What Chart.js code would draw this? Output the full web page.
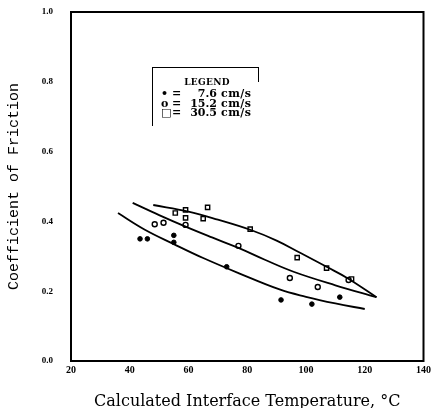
<!DOCTYPE html>
<html>
<head>
<meta charset="utf-8">
<script src="https://cdn.jsdelivr.net/npm/chart.js@4"></script>
<style>
  html, body { margin: 0; padding: 0; background: #fff; }
  #wrap { position: relative; width: 434px; height: 408px; }
  #legendBox {
    position: absolute; left: 152px; top: 67px; width: 106px; height: 58px;
    border-left: 1.5px solid #000; border-top: 1.5px solid #000; background: #fff;
    font-family: "DejaVu Serif", serif; font-weight: bold; font-size: 11px; color: #000;
  }
  #legendBox::after {
    content: ""; position: absolute; right: 0; top: 0; width: 1.5px; height: 14px; background: #000;
  }
  #legendBox span { position: absolute; white-space: nowrap; line-height: 10px; }
  #legendBox .head { left: 0; width: 108px; text-align: center; top: 9px; font-size: 9px; letter-spacing: 0.3px; }
  #legendBox .sym { left: 8px; }
  #legendBox .eq { left: 19px; }
  #legendBox .val { left: 24px; width: 40px; text-align: right; }
  #legendBox .unit { left: 68px; letter-spacing: 0.5px; }
</style>
</head>
<body>
<div id="wrap">
  <canvas id="chart" width="434" height="408"></canvas>
  <div id="legendBox">
    <span class="head">LEGEND</span>
    <span class="sym" style="top:21px">&#8226;</span><span class="eq" style="top:21px">=</span>
    <span class="val" style="top:21px">7.6</span><span class="unit" style="top:21px">cm/s</span>
    <span class="sym" style="top:31px">o</span><span class="eq" style="top:31px">=</span>
    <span class="val" style="top:31px">15.2</span><span class="unit" style="top:31px">cm/s</span>
    <span class="sym" style="top:40px">&#9633;</span><span class="eq" style="top:40px">=</span>
    <span class="val" style="top:40px">30.5</span><span class="unit" style="top:40px">cm/s</span>
  </div>
</div>
<script>
// measured points: [temperature °C, coefficient of friction]
const speed76 = [[43.5, 0.35], [46, 0.35], [55, 0.36], [55, 0.34], [73, 0.27], [91.5, 0.175], [102, 0.163], [111.5, 0.183]];
const speed152 = [[48.5, 0.392], [51.5, 0.396], [59, 0.39], [77, 0.33], [94.5, 0.238], [104, 0.212], [114.5, 0.232]];
const speed305 = [[55.5, 0.424], [59, 0.433], [59, 0.41], [65, 0.408], [66.5, 0.44], [81, 0.378], [97, 0.296], [107, 0.266], [115.5, 0.235]];

// hand-drawn fit curves
const fit76 = [[36, 0.424], [45, 0.377], [55, 0.335], [65, 0.295], [77, 0.252], [91, 0.205], [100, 0.184], [110, 0.165], [120, 0.149]];
const fit152 = [[41, 0.453], [50, 0.418], [59, 0.385], [68, 0.354], [77, 0.324], [86, 0.29], [96, 0.255], [110, 0.217], [124, 0.183]];
const fit305 = [[48, 0.447], [60, 0.428], [70, 0.405], [81, 0.376], [90, 0.345], [98, 0.31], [107, 0.27], [114, 0.238], [124, 0.183]];

const xTicks = [20, 40, 60, 80, 100, 120, 140];
const yTicks = [0, 0.2, 0.4, 0.6, 0.8, 1.0];

const toXY = arr => arr.map(p => ({ x: p[0], y: p[1] }));

const frame = {
    id: 'frame',
    afterDraw(chart) {
        const { ctx, chartArea: a } = chart;
        ctx.save();
        ctx.strokeStyle = '#000';
        ctx.lineWidth = 2;
        ctx.strokeRect(a.left, a.top, a.right - a.left, a.bottom - a.top);
        ctx.restore();
    },
};

const fitLine = data => ({
    type: 'line',
    data: toXY(data),
    borderColor: '#000',
    borderWidth: 1.8,
    pointRadius: 0,
    tension: 0.4,
    fill: false,
});

new Chart(document.getElementById('chart'), {
    type: 'scatter',
    data: {
        datasets: [
            fitLine(fit76),
            fitLine(fit152),
            fitLine(fit305),
            {
                label: '7.6 cm/s',
                data: toXY(speed76),
                pointStyle: 'circle',
                pointRadius: 2.3,
                backgroundColor: '#000',
                borderColor: '#000',
                borderWidth: 1,
            },
            {
                label: '15.2 cm/s',
                data: toXY(speed152),
                pointStyle: 'circle',
                pointRadius: 2.5,
                backgroundColor: '#fff',
                borderColor: '#000',
                borderWidth: 1.4,
            },
            {
                label: '30.5 cm/s',
                data: toXY(speed305),
                pointStyle: 'rect',
                pointRadius: 3,
                backgroundColor: '#fff',
                borderColor: '#000',
                borderWidth: 1.4,
            },
        ],
    },
    options: {
        responsive: false,
        animation: false,
        layout: { padding: { top: 12, right: 10, left: 0, bottom: 0 } },
        plugins: {
            legend: { display: false },
            tooltip: { enabled: false },
        },
        scales: {
            x: {
                type: 'linear',
                min: 20,
                max: 140,
                afterFit(scale) { scale.height = 47; },
                afterBuildTicks(scale) { scale.ticks = xTicks.map(v => ({ value: v })); },
                grid: { display: false, drawTicks: false },
                border: { display: false },
                ticks: {
                    padding: 3,
                    color: '#000',
                    font: { family: 'Liberation Serif', weight: 'bold', size: 10 },
                },
                title: {
                    display: true,
                    text: 'Calculated Interface Temperature, °C',
                    color: '#000',
                    font: { family: 'DejaVu Serif', size: 16 },
                    padding: { top: 0, bottom: -3 },
                },
            },
            y: {
                type: 'linear',
                min: 0,
                max: 1,
                afterFit(scale) {
                    scale.width = 71;
                    scale.paddingTop = 0;
                    scale.paddingBottom = 0;
                },
                afterBuildTicks(scale) { scale.ticks = yTicks.map(v => ({ value: v })); },
                grid: { display: false, drawTicks: false },
                border: { display: false },
                ticks: {
                    padding: 18,
                    color: '#000',
                    font: { family: 'Liberation Serif', weight: 'bold', size: 9 },
                    callback: v => v.toFixed(1),
                },
                title: {
                    display: true,
                    text: 'Coefficient of Friction',
                    color: '#000',
                    font: { family: 'Liberation Mono', size: 15 },
                    padding: { top: 5, bottom: 0 },
                },
            },
        },
    },
    plugins: [frame],
});
</script>
</body>
</html>
